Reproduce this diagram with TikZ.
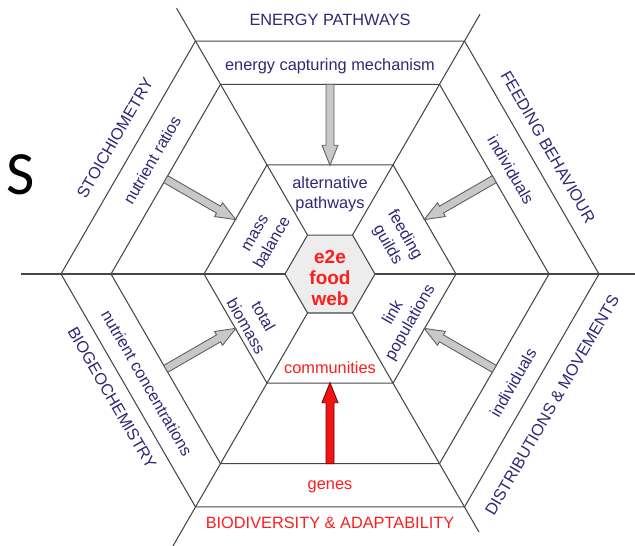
\documentclass[tikz,border=0pt]{standalone}
\usepackage{fontspec}
\setmainfont{Liberation Sans}
\newfontfamily\slidefont{Carlito}
\definecolor{navy}{RGB}{46,40,118}
\definecolor{lbl}{RGB}{255,28,28}
\definecolor{arrfill}{RGB}{200,200,200}
\definecolor{arrline}{RGB}{95,95,95}
\definecolor{redfill}{RGB}{240,20,20}
\definecolor{redline}{RGB}{120,0,0}
\tikzset{
  hexline/.style={draw=black!72, line width=0.6pt},
  lab/.style={text=navy, font=\fontsize{9.3}{11.3}\selectfont, align=center, inner sep=0pt},
  redlab/.style={lab, text=lbl},
  weblab/.style={lab, text=lbl, font=\bfseries\fontsize{10.8}{12}\selectfont},
  grayarrow/.style={draw=arrline, fill=arrfill, line width=0.5pt},
  redarrow/.style={draw=redline, fill=redfill, line width=0.5pt},
  fatarrow/.pic={\path[pic actions] (0,-4) -- (61,-4) -- (61,-8) -- (81,0) -- (61,8) -- (61,4) -- (0,4) -- cycle;}
}
\begin{document}
\begin{tikzpicture}[x=0.02cm, y=0.02cm, line join=miter]
\useasboundingbox (0,0) rectangle (635,545);
\clip (0,0) rectangle (635,545);
\node[font=\slidefont\fontsize{35}{40}\selectfont, inner sep=0pt] (bigS) at (21,370) {S};
\begin{scope}[shift={(330,271)}]
  % hexagons
  \foreach \r in {126,219,269}
    \draw[hexline] (0:\r) -- (60:\r) -- (120:\r) -- (180:\r) -- (240:\r) -- (300:\r) -- cycle;
  % radial lines
  \foreach \a/\l in {0/310,60/300,120/307,180/309,240/330,300/298}
    \draw[hexline] (\a:45) -- (\a:\l);
  % inner hexagon
  \draw[hexline, fill=gray!14] (0:45) -- (60:45) -- (120:45) -- (180:45) -- (240:45) -- (300:45) -- cycle;
  \node[weblab] (web) at (0,-4) {e2e\\food\\web};
  % arrow start points on the middle hexagon
  \foreach \a in {30,90,150,210,270,330}
    \coordinate (s\a) at (\a:189.7);
  \pic[grayarrow, rotate=270] at (s90) {fatarrow};
  \pic[grayarrow, rotate=-30] at (s150) {fatarrow};
  \pic[grayarrow, rotate=210] at (s30) {fatarrow};
  \pic[grayarrow, rotate=30] at (s210) {fatarrow};
  \pic[grayarrow, rotate=150] at (s330) {fatarrow};
  \pic[redarrow, rotate=90] at (s270) {fatarrow};
  % inner ring labels
  \node[lab] (alt) at (0,80) {alternative\\pathways};
  \node[lab, rotate=60] (mass) at (-66,36) {mass\\balance};
  \node[lab, rotate=-60] (guild) at (66,34) {feeding\\guilds};
  \node[lab, rotate=-60] (biom) at (-75,-47) {total\\biomass};
  \node[lab, rotate=60] (link) at (72,-44) {link\\populations};
  \node[redlab] (comm) at (0,-94) {communities};
  % middle ring labels
  \node[lab] (ecm) at (0,208) {energy capturing mechanism};
  \node[lab, rotate=60] (nrat) at (-178,114) {nutrient ratios};
  \node[lab, rotate=-60] (ind1) at (181,104) {individuals};
  \node[lab, rotate=-60] (ncon) at (-183,-109) {nutrient concentrations};
  \node[lab, rotate=60] (ind2) at (183,-109) {individuals};
  \node[redlab] (genes) at (0,-213) {genes};
  % outer labels
  \node[lab] (ep) at (0,254) {ENERGY PATHWAYS};
  \node[lab, rotate=60] (stoi) at (-215,136) {STOICHIOMETRY};
  \node[lab, rotate=-60] (feed) at (218,127) {FEEDING BEHAVIOUR};
  \node[lab, rotate=-60] (bgc) at (-218,-124) {BIOGEOCHEMISTRY};
  \node[lab, rotate=60] (dist) at (222,-131) {DISTRIBUTIONS \& MOVEMENTS};
  \node[redlab] (bio) at (0,-249) {BIODIVERSITY \& ADAPTABILITY};
\end{scope}
\end{tikzpicture}
\end{document}
